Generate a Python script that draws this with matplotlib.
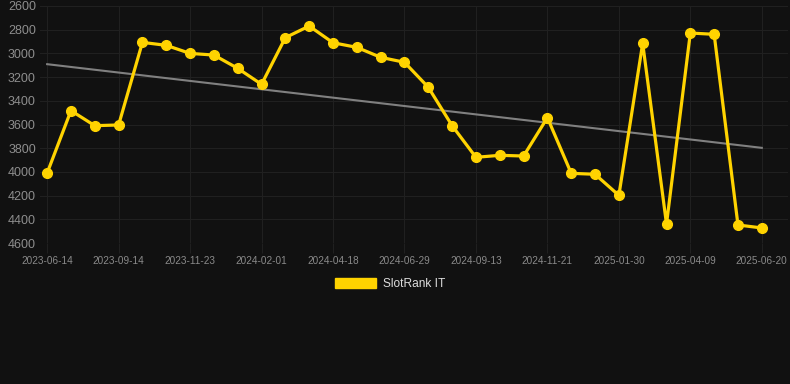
import matplotlib
matplotlib.use("Agg")
import matplotlib.pyplot as plt
import numpy as np
from matplotlib.patches import Patch

plt.rcParams['font.family'] = ['Liberation Sans', 'DejaVu Sans']

# SlotRank IT positions, one point every ~3 weeks
rank = [4010, 3483, 3610, 3604, 2907, 2932, 3000, 3014, 3126, 3261,
        2867, 2769, 2910, 2949, 3033, 3075, 3286, 3610, 3877, 3860,
        3866, 3542, 4012, 4020, 4198, 2915, 4440, 2828, 2839, 4448, 4473]
tick_labels = ['2023-06-14', '2023-09-14', '2023-11-23', '2024-02-01', '2024-04-18',
               '2024-06-29', '2024-09-13', '2024-11-21', '2025-01-30', '2025-04-09',
               '2025-06-20']
y_ticks = [2600, 2800, 3000, 3200, 3400, 3600, 3800, 4000, 4200, 4400, 4600]

bg = '#111111'
yellow = '#FFD300'
grid_c = '#202020'

x = np.arange(len(rank))
fig = plt.figure(figsize=(7.9, 3.84), dpi=100, facecolor=bg)
ax = fig.add_axes([40/790, 1-243/384, 748/790, 237/384])
ax.set_facecolor(bg)

# trend line (linear fit)
k, b = np.polyfit(x, rank, 1)
ax.plot(x, k*x + b, color='#808080', linewidth=1.5, zorder=2)

ax.plot(x, rank, color=yellow, linewidth=2.3, marker='o', markersize=7, zorder=3)

ax.set_ylim(4600, 2600)
ax.set_yticks(y_ticks)
ax.set_xlim(-0.3, 31.1)
ax.set_xticks(np.arange(0, len(rank), 3))
ax.set_xticklabels(tick_labels)

ax.grid(True, color=grid_c, linewidth=0.8, zorder=0)
for s in ax.spines.values():
    s.set_visible(False)
ax.tick_params(axis='y', length=0, labelsize=9, labelcolor='#8e8e8e', pad=3)
ax.tick_params(axis='x', length=7, color=grid_c, labelsize=7.2, labelcolor='#8a8a8a', pad=2)

fig.legend(handles=[Patch(facecolor=yellow, edgecolor=yellow)], labels=['SlotRank IT'],
           loc='center', bbox_to_anchor=(390/790, 1-284/384), frameon=False,
           handlelength=3.4, handleheight=0.9, handletextpad=0.6,
           prop={'size': 8.6}, labelcolor='#dddddd')

plt.savefig('out.png', facecolor=bg)
